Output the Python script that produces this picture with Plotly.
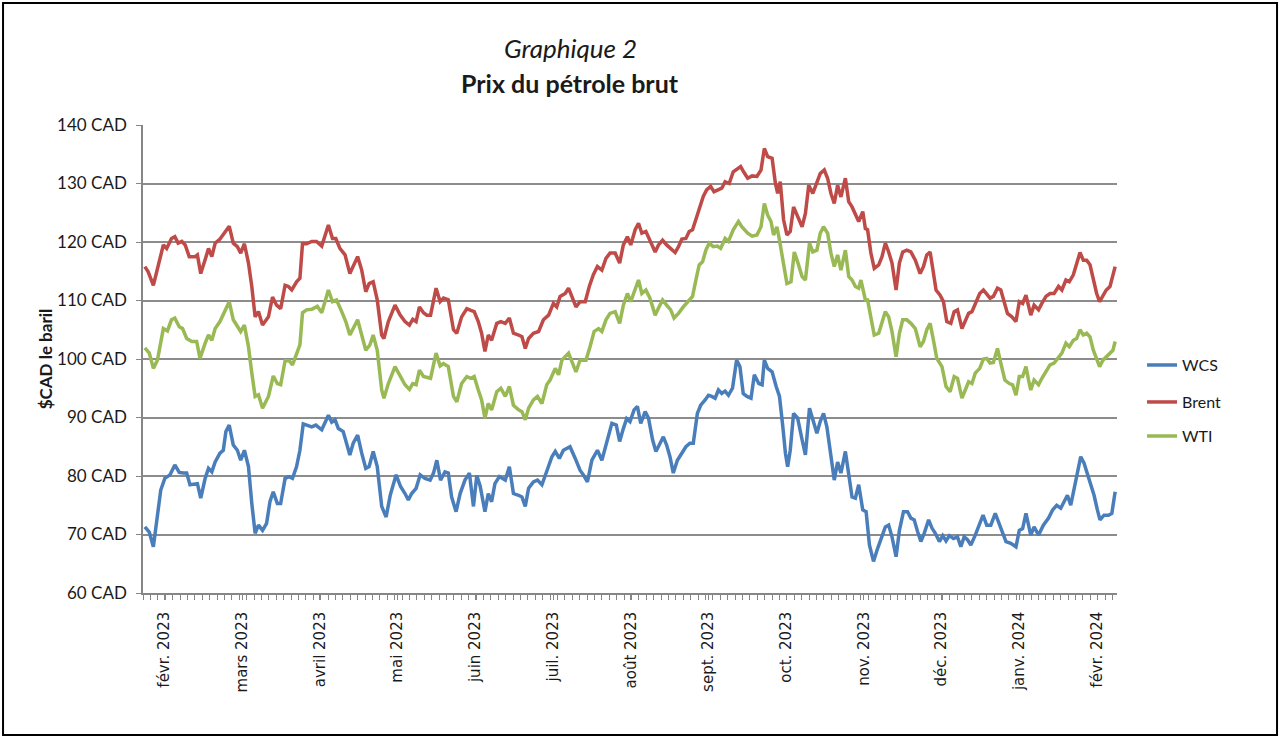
import plotly.graph_objects as go

# ---- data (trading-day index, price in CAD per barrel) ----
wcs_t = [0.5,1.7,2.8,3.9,4.8,5.9,7.3,8.6,9.8,10.9,11.8,12.7,14.1,14.7,15.6,16.8,17.7,18.6,19.5,20.8,21.7,22.4,23.3,24.4,25.5,26.4,27.4,28.5,29.4,30.3,31.2,32.3,
         33.4,34.3,35.2,36.3,37.2,38.4,39.5,40.4,41.5,42.4,43.3,44.4,45.6,46.7,48.3,50.1,51.0,51.9,52.8,54.1,55.9,56.8,58.0,59.1,60.2,61.1,62.2,63.3,64.5,
         65.7,66.8,68.4,69.6,70.8,71.7,72.6,73.8,74.9,76.2,77.6,78.5,79.4,80.4,81.6,82.5,83.4,84.6,85.7,87.0,88.2,89.3,90.2,91.1,92.4,93.3,94.2,95.1,96.3,
         97.9,99.0,100.1,101.5,102.4,103.3,104.2,105.5,106.6,107.8,109.1,110.5,111.4,112.5,113.6,115.4,116.8,118.1,119.0,120.1,121.3,122.8,124.0,125.1,126.7,127.9,128.8,
         129.8,130.7,131.6,132.7,133.6,134.5,135.7,136.6,137.7,138.6,139.5,140.6,141.5,142.4,143.3,144.4,145.6,146.7,147.8,148.7,149.8,150.7,151.9,152.8,153.7,154.6,155.5,156.4,157.3,158.2,159.3,160.4,161.3,162.2,
         163.2,164.3,165.2,166.4,167.3,167.9,168.8,170.0,171.1,172.0,172.9,173.6,174.2,174.9,175.8,176.9,178.1,179.0,180.1,181.2,182.1,183.0,183.9,184.8,185.7,186.8,187.7,188.6,189.8,190.7,191.6,192.5,193.4,
         194.5,195.4,196.3,197.4,198.5,199.7,200.6,201.5,202.4,203.5,204.4,205.5,206.6,207.5,208.4,209.3,210.2,211.1,212.3,213.2,214.1,215.2,216.1,217.0,217.9,219.0,220.1,221.0,221.9,222.8,223.7,224.9,226.1,227.0,
         228.0,229.1,230.3,231.2,232.3,233.2,234.5,235.9,236.8,237.7,238.6,239.3,239.9,240.8,242.0,243.3,244.7,245.8,246.9,248.0,248.9,249.8,250.7,251.6,252.5,253.4,254.3,255.2,256.1,257.0,257.9,258.6,259.7,260.9,261.8,262.7]
wcs_v = [71.3,70.4,67.9,73.0,77.6,79.6,80.2,81.9,80.6,80.5,80.5,78.5,78.7,78.7,76.2,79.6,81.3,80.7,82.4,83.9,84.4,87.6,88.7,85.3,84.4,82.7,84.4,81.6,75.3,70.2,71.6,70.7,
         71.9,75.6,77.3,75.3,75.3,79.6,79.9,79.6,81.6,84.4,88.9,88.7,88.4,88.7,87.9,90.4,89.2,89.6,88.1,87.6,83.6,85.6,87.0,83.9,81.3,81.6,84.2,81.6,74.8,
         73.0,76.7,80.2,78.2,77.0,75.9,77.0,77.9,80.2,79.6,79.3,80.5,82.7,79.3,80.7,80.5,76.4,73.9,77.0,79.3,80.5,74.8,80.1,78.3,73.9,77.0,75.6,78.7,79.9,
         79.3,81.6,77.0,76.7,76.4,74.8,77.9,79.0,79.3,78.5,80.7,83.3,84.2,83.0,84.4,85.0,83.0,81.0,80.2,79.0,82.7,84.4,82.7,85.3,89.0,88.7,85.9,
         88.1,89.8,89.3,91.3,91.9,89.0,91.0,89.9,86.2,84.2,85.3,86.7,85.3,83.3,80.5,82.7,83.9,85.0,85.6,85.6,90.7,92.1,93.0,93.8,93.6,93.3,94.7,94.1,94.5,93.8,95.0,99.8,98.7,94.1,
         93.6,93.3,97.3,95.8,95.6,99.8,98.4,97.8,95.3,93.6,88.4,83.9,81.6,84.4,90.7,89.9,86.2,83.6,91.6,89.3,87.3,89.3,90.7,88.4,83.9,79.3,82.4,80.5,84.2,79.9,76.4,76.2,78.5,
         74.2,73.9,68.2,65.4,67.6,69.6,71.3,71.6,69.6,66.2,70.7,73.9,73.9,72.8,72.5,70.5,68.8,70.2,72.5,71.1,70.2,68.8,69.8,68.9,69.8,69.3,69.6,67.9,69.6,69.1,68.2,69.9,71.9,73.3,
         71.6,71.6,73.6,72.2,70.5,68.8,68.5,67.9,70.7,71.0,73.6,71.3,69.9,71.3,69.9,71.6,72.8,74.2,75.0,74.5,75.6,76.7,75.0,77.6,80.5,83.3,82.2,80.5,78.7,76.7,74.2,72.5,73.3,73.3,73.6,77.3]

brent_t = [0.5,1.4,2.8,4.1,5.5,6.4,7.7,8.6,9.5,10.5,11.4,12.5,14.1,14.7,15.6,16.9,17.7,18.6,19.5,20.8,21.9,23.3,24.4,25.5,26.4,27.4,28.5,29.4,30.3,31.2,32.3,
           33.9,35.0,36.1,37.2,38.4,39.3,40.2,41.5,42.4,43.1,44.2,45.6,46.9,48.3,50.1,51.2,52.1,53.2,54.6,55.9,56.8,58.0,59.1,60.2,61.1,62.2,63.3,64.5,
           65.1,66.3,68.1,69.5,70.8,72.0,72.9,73.8,74.7,75.8,76.7,77.7,79.2,80.3,81.2,82.5,83.9,84.8,86.1,87.5,88.6,89.5,90.6,91.5,92.4,93.3,94.2,95.6,96.7,
           97.9,99.0,100.1,101.5,102.4,103.3,104.2,105.5,106.9,108.2,109.6,110.9,111.8,112.7,114.1,115.0,115.9,117.0,118.1,119.5,120.6,121.7,122.8,124.0,125.1,126.2,127.6,128.8,
           129.8,130.9,131.8,133.0,133.9,134.8,135.9,137.0,138.4,139.3,140.4,141.5,142.6,143.8,144.7,145.6,146.7,147.6,148.5,149.4,150.5,151.4,152.3,153.4,154.3,155.5,156.4,157.3,158.4,159.5,160.6,161.5,
           162.3,163.4,164.6,165.9,167.0,167.9,168.8,170.0,170.9,171.5,172.2,173.1,174.0,174.9,175.8,176.9,178.1,179.0,179.9,181.0,181.9,183.0,184.1,185.0,185.9,186.8,187.7,188.6,189.8,190.7,191.6,192.5,193.4,
           194.5,195.2,195.8,196.7,197.6,198.8,199.7,200.6,201.5,202.4,203.5,204.4,205.3,206.4,207.5,208.7,210.0,210.9,211.8,212.7,213.4,214.3,215.4,216.3,217.2,218.3,219.2,220.1,221.3,222.2,223.1,224.0,224.9,226.1,
           227.1,228.0,228.9,229.8,230.9,231.8,232.7,233.6,234.8,235.9,236.8,237.7,238.6,239.3,239.9,240.8,242.0,242.9,244.0,245.1,246.2,247.4,248.3,249.4,250.3,251.4,252.3,253.2,254.1,255.0,255.9,256.8,257.7,258.5,259.4,260.3,261.3,262.1,262.7]
brent_v = [115.8,114.9,112.6,115.8,119.5,118.9,120.6,120.9,119.8,120.1,119.5,117.5,117.5,117.8,114.6,117.2,118.9,117.5,119.8,120.5,121.5,122.7,119.8,119.2,118.1,119.7,116.4,112.4,107.2,108.1,105.8,
           107.2,110.6,109.2,108.6,112.6,112.4,111.8,113.2,113.8,119.7,119.7,120.1,120.1,119.3,122.9,120.6,120.6,118.9,117.8,114.6,115.8,117.5,115.2,111.5,112.9,113.2,110.1,104.1,
           103.5,106.4,109.2,107.5,106.4,105.8,106.8,106.4,108.9,107.9,107.5,107.5,112.1,109.8,110.4,110.1,105.0,104.4,107.2,108.6,108.3,108.1,106.4,104.4,101.3,104.1,103.2,106.1,106.4,
           106.1,107.0,104.4,104.1,103.8,101.8,103.5,104.4,104.7,106.7,107.5,109.5,108.9,110.7,111.2,112.1,110.7,108.9,109.8,109.8,112.4,114.4,115.8,115.2,117.2,118.1,118.1,116.4,
           119.5,120.9,119.5,122.1,123.2,121.5,121.8,120.3,118.3,119.5,120.3,119.5,118.9,118.2,119.2,120.5,120.6,121.8,122.1,123.8,125.8,127.8,128.9,129.5,128.6,128.9,129.2,130.3,130.0,132.0,132.6,132.9,
           132.0,130.9,131.3,131.2,132.3,136.0,134.6,134.3,130.0,128.3,130.3,123.8,121.2,121.8,126.0,124.3,122.6,124.9,129.7,128.3,129.7,131.7,132.3,130.9,128.3,126.6,129.7,127.7,130.9,126.9,126.0,124.6,123.5,
           125.2,122.3,122.1,118.1,115.5,116.1,117.5,119.8,118.3,116.4,111.8,116.4,118.3,118.6,118.3,116.9,114.6,115.8,117.8,118.3,115.5,111.8,110.9,109.8,106.4,106.1,108.1,108.4,105.2,106.4,107.8,108.1,109.5,111.2,
           111.8,111.2,110.4,110.7,112.1,111.8,109.8,107.8,107.2,106.4,109.8,109.5,110.9,108.9,107.5,109.2,108.4,109.5,110.7,111.2,111.2,112.4,111.8,113.5,113.2,114.4,116.4,118.2,116.9,116.9,116.1,113.5,111.2,109.8,110.9,111.8,112.4,114.1,115.8]

wti_t = [0.5,1.7,2.8,3.9,5.5,6.6,7.7,8.6,9.8,10.7,11.8,13.2,14.5,15.4,16.8,17.7,18.6,19.5,20.8,21.9,23.3,24.4,25.3,26.4,27.4,28.5,29.4,30.3,31.2,32.3,
         33.9,35.2,36.3,37.2,38.4,39.5,40.4,41.5,42.4,43.1,44.2,45.6,47.1,48.3,50.1,51.2,52.3,53.7,54.8,55.9,57.0,58.0,59.1,60.2,61.3,62.2,63.3,64.5,
         65.1,66.3,68.1,69.5,70.8,72.0,72.9,73.8,74.7,75.8,77.7,79.2,80.3,81.2,82.5,83.9,84.8,86.1,87.5,88.6,89.5,90.6,91.5,92.4,93.3,94.2,95.6,96.7,
         97.9,99.0,100.1,101.5,102.4,103.3,104.2,105.5,106.6,107.8,109.1,110.0,111.4,112.3,113.2,115.0,116.1,117.0,118.1,119.7,120.8,121.9,123.1,124.0,125.1,126.2,127.6,128.8,
         129.8,130.9,131.8,133.0,133.9,134.8,135.9,137.0,138.4,139.3,140.4,141.5,142.6,143.5,144.7,146.0,147.4,148.5,149.4,150.3,151.2,152.1,153.0,154.1,155.2,156.1,157.3,158.2,159.5,160.9,161.8,
         163.4,164.6,165.9,167.0,167.9,168.8,169.7,170.4,171.3,172.0,173.1,174.0,175.1,176.0,176.9,178.1,179.0,180.1,181.0,182.1,183.0,183.9,185.0,185.9,186.8,187.7,188.6,189.8,190.7,191.6,192.5,193.4,
         194.0,195.2,195.8,196.7,197.6,198.8,199.7,200.6,201.5,202.4,203.5,204.4,205.3,206.4,207.5,208.7,210.0,210.9,211.8,212.7,213.6,214.5,215.9,217.0,218.1,219.2,220.1,221.3,222.2,223.1,224.0,224.9,226.1,227.1,
         228.0,228.9,229.8,230.9,231.8,232.9,234.1,235.0,235.9,236.8,237.7,238.6,239.3,239.9,240.8,242.0,242.9,244.0,245.1,246.2,247.4,248.3,249.4,250.3,251.4,252.3,253.2,254.1,255.0,255.9,256.8,257.7,258.5,259.4,260.3,261.3,262.1,262.7]
wti_v = [101.9,101.0,98.4,99.8,105.2,104.8,106.7,107.0,105.5,105.2,103.5,103.0,103.0,100.1,102.7,104.1,103.2,105.2,106.4,107.8,109.8,106.7,105.8,104.7,105.8,102.1,97.6,93.6,93.9,91.6,
         93.6,97.1,95.8,95.6,99.7,99.7,99.0,100.7,102.4,107.9,108.4,108.5,109.0,107.9,111.8,109.8,110.1,108.1,106.4,104.1,105.5,106.7,104.1,101.5,102.4,104.1,101.5,94.7,
         93.3,95.8,98.7,97.0,95.6,94.8,95.8,95.6,98.1,97.0,96.7,101.0,98.8,99.2,98.7,93.6,92.7,95.8,97.0,96.7,97.0,94.7,93.0,89.9,92.4,91.3,94.4,95.0,
         93.6,95.3,92.1,91.3,91.0,89.6,91.6,93.0,93.6,92.4,95.6,96.4,98.4,97.3,99.8,101.0,99.3,97.8,99.8,99.8,102.1,104.7,105.2,104.7,106.7,107.8,108.1,106.1,
         109.2,111.2,109.8,112.1,113.5,111.2,111.8,110.4,107.5,108.7,110.1,109.2,108.4,107.0,107.8,108.9,109.8,110.7,113.5,116.1,116.6,118.6,119.8,119.2,119.3,118.9,120.6,120.1,122.1,123.5,122.6,
         121.5,121.0,121.2,122.6,126.6,124.6,123.5,121.2,122.6,120.3,115.8,112.9,113.2,118.3,116.6,114.1,113.5,119.8,118.3,118.6,121.5,122.6,121.5,118.1,115.8,117.8,115.2,118.6,114.1,113.5,112.4,112.1,
         113.5,110.1,110.1,106.7,104.1,104.4,106.1,108.1,107.2,104.7,100.4,104.4,106.7,106.7,106.1,105.2,102.1,103.0,105.0,106.1,103.2,100.1,98.7,95.3,94.4,97.0,96.7,93.3,94.7,96.1,95.8,97.6,98.4,100.0,
         100.1,99.3,99.4,101.8,99.3,96.4,95.8,95.6,93.8,97.0,97.0,98.7,96.4,94.7,96.4,95.6,96.7,97.8,99.0,99.3,100.4,101.0,102.7,102.1,103.2,103.5,105.0,104.1,104.4,103.8,101.5,99.8,98.7,99.8,100.4,101.0,101.5,103.0]

month_labels = ["févr. 2023", "mars 2023", "avril 2023", "mai 2023", "juin 2023", "juil. 2023",
                "août 2023", "sept. 2023", "oct. 2023", "nov. 2023", "déc. 2023", "janv. 2024", "févr. 2024"]
month_pos = [5.8 + 21 * k for k in range(len(month_labels))]
y_ticks = [60, 70, 80, 90, 100, 110, 120, 130, 140]
y_labels = [f"{v} CAD" for v in y_ticks]

FONT = "Lato"
AXC = "#868686"

fig = go.Figure()
series = [("WCS", wcs_t, wcs_v, "#4A7EBB", "legend"),
          ("Brent", brent_t, brent_v, "#BE4B48", "legend2"),
          ("WTI", wti_t, wti_v, "#98B954", "legend3")]
for name, t, v, col, lg in series:
    fig.add_trace(go.Scatter(x=t, y=v, mode="lines", name=name, showlegend=True,
                             line=dict(color=col, width=3.5), legend=lg))

leg_common = dict(x=1.0257, xanchor="left", yanchor="middle", bgcolor="rgba(0,0,0,0)",
                  font=dict(family=FONT, size=16, color="#1a1a1a"))
fig.update_layout(
    width=1280, height=738,
    showlegend=True,
    margin=dict(l=143, r=163, t=125, b=145),
    paper_bgcolor="white", plot_bgcolor="white",
    font=dict(family=FONT, color="#1a1a1a"),
    legend=dict(y=0.487, **leg_common),
    legend2=dict(y=0.408, **leg_common),
    legend3=dict(y=0.335, **leg_common),
    xaxis=dict(range=[0, 263.2], tickmode="array", tickvals=month_pos, ticktext=month_labels,
               tickangle=-90, ticks="outside", ticklen=5, tickcolor=AXC, tickwidth=1,
               showline=True, linecolor=AXC, linewidth=1.5, showgrid=False, zeroline=False,
               ticklabelstandoff=6,
               tickfont=dict(family="DejaVu Sans", size=15, color="#1a1a1a"),
               minor=dict(tickmode="linear", tick0=0, dtick=2, ticks="outside", ticklen=5,
                          tickcolor=AXC, tickwidth=1, showgrid=False)),
    yaxis=dict(range=[60, 140], tickmode="array", tickvals=y_ticks, ticktext=y_labels,
               ticks="outside", ticklen=5, tickcolor=AXC, showline=True, linecolor=AXC,
               linewidth=1.5, gridcolor="#8c8c8c", gridwidth=1.5, zeroline=False,
               ticklabelstandoff=6,
               tickfont=dict(family=FONT, size=17, color="#1a1a1a"),
               title=dict(text="<b>$CAD le baril</b>", standoff=0,
                          font=dict(family=FONT, size=17, color="#1a1a1a"))),
    annotations=[
        dict(text="<i>Graphique 2</i>", xref="paper", yref="paper", x=0.4384, y=1.1645,
             xanchor="center", yanchor="middle", showarrow=False,
             font=dict(family=FONT, size=26, color="#1a1a1a")),
        dict(text="<b>Prix du pétrole brut</b>", xref="paper", yref="paper", x=0.4384, y=1.0897,
             xanchor="center", yanchor="middle", showarrow=False,
             font=dict(family=FONT, size=25, color="#1a1a1a")),
    ],
    shapes=[dict(type="rect", xref="paper", yref="paper", x0=-0.1437, x1=1.1643,
                 y0=-0.3034, y1=1.2607, line=dict(color="black", width=2))],
)
fig.write_html("out.html", config={"displayModeBar": False},
               post_script="document.body.style.margin='0';")
